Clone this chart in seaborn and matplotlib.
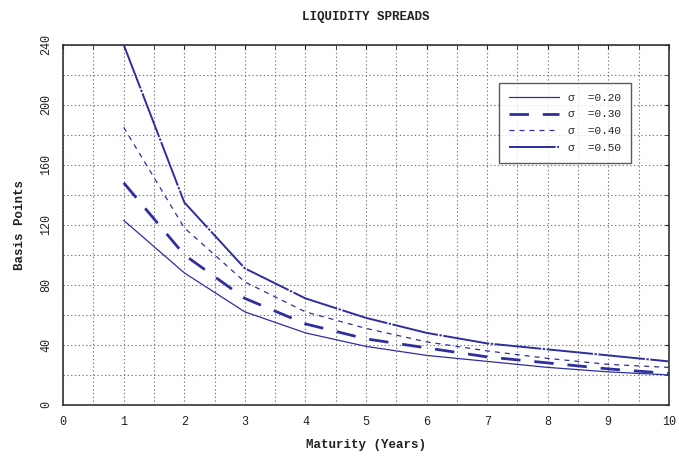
import matplotlib
matplotlib.use("Agg")
import matplotlib.pyplot as plt
from matplotlib.ticker import MultipleLocator
import seaborn as sns
import pandas as pd

maturity = [1, 2, 3, 4, 5, 6, 7, 8, 9, 10]
sigma_labels = ["0.20", "0.30", "0.40", "0.50"]
spread_020 = [123, 88, 62, 48, 39, 33, 29, 25, 22, 20]
spread_030 = [148, 100, 71, 54, 44, 38, 32, 28, 24, 21]
spread_040 = [185, 118, 82, 62, 51, 42, 36, 31, 27, 25]
spread_050 = [240, 135, 91, 71, 58, 48, 41, 37, 33, 29]
series = [spread_020, spread_030, spread_040, spread_050]

sns.set_style("white")
plt.rcParams['font.family'] = ['Liberation Mono', 'DejaVu Sans Mono']

fig = plt.figure(figsize=(6.79, 4.57), dpi=100)
ax = fig.add_axes([0.093, 0.114, 0.892, 0.788])

color = "#2e2e9e"
styles = [
    dict(linestyle="-", linewidth=0.9),
    dict(linestyle=(0, (7, 5)), linewidth=2.0),
    dict(linestyle=(0, (4, 4)), linewidth=0.9),
    dict(linestyle=(0, (24, 0.8, 1.2, 0.8)), linewidth=1.4),
]

for lab, vals, st in zip(sigma_labels, series, styles):
    df = pd.DataFrame({"Maturity": maturity, "Spread": vals})
    sns.lineplot(data=df, x="Maturity", y="Spread", ax=ax, color=color,
                 label="\u03c3  =" + lab, **st)

ax.set_xlim(0, 10)
ax.set_ylim(0, 240)
ax.xaxis.set_major_locator(MultipleLocator(1))
ax.xaxis.set_minor_locator(MultipleLocator(0.5))
ax.yaxis.set_major_locator(MultipleLocator(40))
ax.yaxis.set_minor_locator(MultipleLocator(20))
ax.grid(True, which="both", color="#777777", linestyle=(0, (1.2, 2.2)), linewidth=0.8)
ax.tick_params(which="both", direction="in", top=True, right=True, length=3,
               labelsize=8.5, colors="#222222")
ax.tick_params(axis="x", pad=8)
ax.tick_params(axis="y", pad=8)
for lbl in ax.get_yticklabels():
    lbl.set_rotation(90)
    lbl.set_va("center")
for sp in ax.spines.values():
    sp.set_color("#333333")
    sp.set_linewidth(1.2)

ax.set_xlabel("Maturity (Years)", fontsize=9, color="#222222", fontweight="bold", labelpad=8)
ax.set_ylabel("Basis Points", fontsize=9, color="#222222", fontweight="bold", labelpad=10)
ax.set_title("LIQUIDITY SPREADS", fontsize=9, color="#222222", fontweight="bold", pad=18)

leg = ax.legend(loc="upper right", bbox_to_anchor=(0.947, 0.91), fontsize=8,
                handlelength=4.5, frameon=True, fancybox=False,
                edgecolor="#333333", borderpad=0.9, labelspacing=0.6)
leg.get_frame().set_linewidth(1.0)

fig.savefig("out.png", dpi=100)
